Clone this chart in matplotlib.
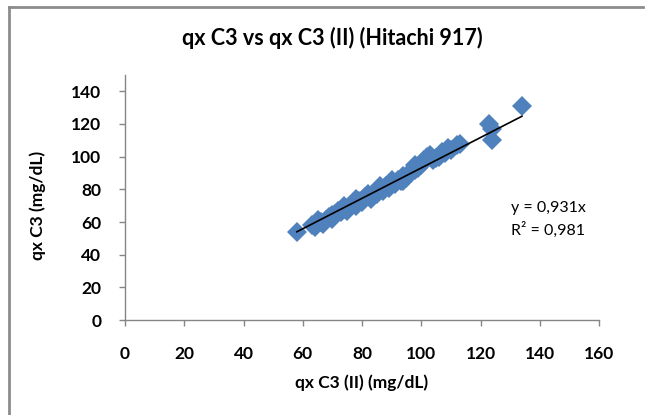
import matplotlib
matplotlib.use("Agg")
import matplotlib.pyplot as plt
from matplotlib.lines import Line2D

x_vals = [58, 63, 64, 66, 67, 68, 69, 70, 71, 72, 73, 74, 75, 76, 77, 78, 79, 80,
          81, 82, 83, 84, 85, 86, 87, 88, 89, 90, 91, 92, 93, 94, 95, 96, 97, 98,
          99, 100, 101, 102, 103, 104, 106, 107, 108, 109, 110, 112, 113,
          123, 124, 124, 134,
          65, 70, 74, 78, 82, 86, 90, 94, 98, 105]
y_vals = [54, 58, 57, 60, 59, 61, 63, 62, 65, 67, 66, 68, 67, 70, 71, 70, 73, 72,
          75, 76, 74, 78, 77, 80, 79, 82, 81, 84, 83, 86, 85, 88, 87, 90, 91, 92,
          93, 95, 98, 100, 101, 98, 100, 103, 102, 105, 104, 107, 108,
          120, 117, 110, 131,
          61, 64, 70, 74, 77, 82, 86, 85, 95, 99]
slope = 0.931
trend_x = [58, 134]
x_ticks = [0, 20, 40, 60, 80, 100, 120, 140, 160]
y_ticks = [0, 20, 40, 60, 80, 100, 120, 140]

W, H = 647, 415
fig = plt.figure(figsize=(W / 100, H / 100), dpi=100)
plt.rcParams['font.family'] = ['Lato', 'DejaVu Sans']

ax = fig.add_axes([125 / W, 1 - 320 / H, (599 - 125) / W, (320 - 75) / H])
ax.plot(x_vals, y_vals, linestyle='none', marker='D', markersize=10,
        markerfacecolor='#4F81BD', markeredgewidth=0, zorder=2)
ax.plot(trend_x, [slope * v for v in trend_x], color='black', lw=1.2, zorder=3)

ax.set_xlim(0, 160)
ax.set_ylim(0, 150)
ax.set_xticks(x_ticks)
ax.set_yticks(y_ticks)
for s in ['top', 'right']:
    ax.spines[s].set_visible(False)
for s in ['left', 'bottom']:
    ax.spines[s].set_color('#868686')
    ax.spines[s].set_linewidth(1.0)
ax.tick_params(direction='out', length=4, width=1, color='#868686', labelsize=12.5)
ax.tick_params(axis='x', pad=15)
ax.tick_params(axis='y', pad=13)
for lab in ax.get_xticklabels() + ax.get_yticklabels():
    lab.set_fontweight('bold')
ax.set_xlabel('qx C3 (II) (mg/dL)', fontsize=12.5, fontweight='bold', va='center')
ax.set_ylabel('qx C3 (mg/dL)', fontsize=12.5, fontweight='bold', va='center')
ax.xaxis.set_label_coords((362 - 125) / 474, (320 - 383) / 245)
ax.yaxis.set_label_coords((38 - 125) / 474, (320 - 205) / 245)

fig.text(332 / W, 1 - 38 / H, 'qx C3 vs qx C3 (II) (Hitachi 917)', ha='center',
         va='center', fontsize=15.5, fontweight='bold')
fig.text(511 / W, 1 - 208 / H, 'y = 0,931x', ha='left', va='center', fontsize=11.5)
fig.text(511 / W, 1 - 230 / H, 'R² = 0,981', ha='left', va='center', fontsize=11.5)

fig.add_artist(Line2D([9 / W, 9 / W], [0, 1 - 7 / H], transform=fig.transFigure,
                      color='#8C8C8C', lw=2))
fig.add_artist(Line2D([9 / W, 643 / W], [1 - 7 / H, 1 - 7 / H], transform=fig.transFigure,
                      color='#8C8C8C', lw=2))

fig.savefig('out.png', dpi=100)
